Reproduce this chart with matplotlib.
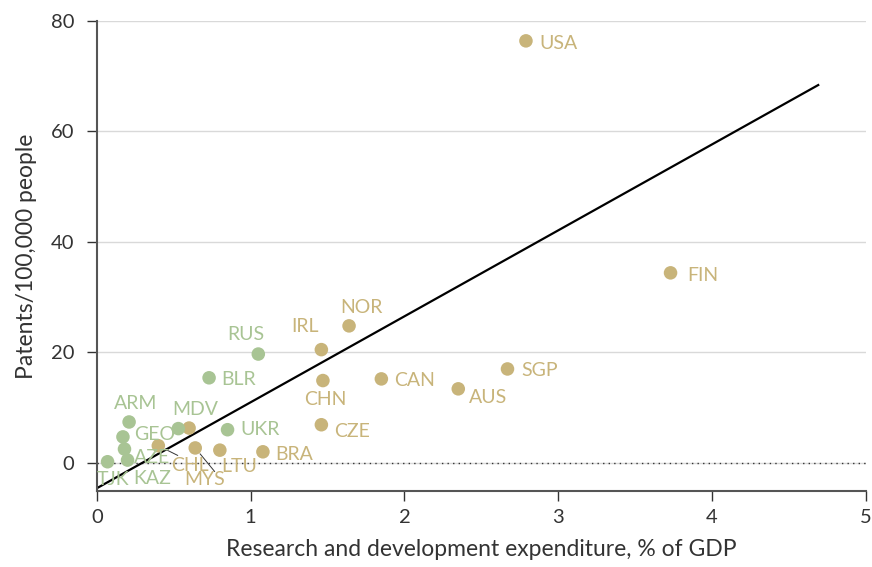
import numpy as np
import matplotlib.pyplot as plt

plt.rcParams['font.family'] = ['Lato', 'DejaVu Sans']

#-------------------- data --------------------

countries = ['USA', 'FIN', 'SGP', 'AUS', 'CAN', 'NOR', 'IRL', 'CHN', 'CZE', 'BRA',
             'CHL', 'MYS', 'LTU', '',
             'RUS', 'BLR', 'UKR', 'MDV', 'ARM', 'GEO', 'AZE', 'KAZ', 'TJK']
rnd_gdp = [2.79, 3.73, 2.67, 2.35, 1.85, 1.64, 1.46, 1.47, 1.46, 1.08,
           0.40, 0.64, 0.80, 0.60,
           1.05, 0.73, 0.85, 0.53, 0.21, 0.17, 0.18, 0.20, 0.07]
patents = [76.4, 34.4, 17.0, 13.4, 15.2, 24.8, 20.5, 14.9, 6.9, 2.0,
           3.1, 2.7, 2.3, 6.3,
           19.7, 15.4, 6.0, 6.2, 7.4, 4.7, 2.5, 0.5, 0.2]
group = ['other'] * 14 + ['cis'] * 9

trend_x = [0.0, 4.69]
trend_y = [-4.6, 68.4]

#-------------------- label placement (offset points) --------------------

offsets = {
    'USA': (10, -2, 'left'), 'FIN': (12, -2, 'left'), 'SGP': (10, -1, 'left'),
    'AUS': (8, -6, 'left'), 'CAN': (9, -1, 'left'), 'NOR': (9, 13, 'center'),
    'IRL': (-12, 17, 'center'), 'CHN': (2, -14, 'center'), 'CZE': (9, -5, 'left'),
    'BRA': (9, -2, 'left'), 'CHL': (23, -14, 'center'), 'MYS': (7, -23, 'center'),
    'LTU': (14, -12, 'center'), 'RUS': (-9, 14, 'center'), 'BLR': (9, -1, 'left'),
    'UKR': (9, 0, 'left'), 'MDV': (12, 14, 'center'), 'ARM': (5, 13, 'center'),
    'GEO': (8, 2, 'left'), 'AZE': (20, -6, 'center'), 'KAZ': (18, -13, 'center'),
    'TJK': (4, -13, 'center'),
}
leaders = {'CHL': (14, -7), 'MYS': (14, -17)}

colors = {'other': '#c8b47a', 'cis': '#a8c494'}

fig = plt.figure(figsize=(8.72, 5.67), dpi=100)
ax = fig.add_axes([0.111, 0.134, 0.882, 0.829])

for g in ['other', 'cis']:
    xs = [x for x, gg in zip(rnd_gdp, group) if gg == g]
    ys = [y for y, gg in zip(patents, group) if gg == g]
    ax.scatter(xs, ys, s=95, color=colors[g], edgecolors='none', zorder=3)

for name, x, y, g in zip(countries, rnd_gdp, patents, group):
    if not name:
        continue
    dx, dy, ha = offsets[name]
    ax.annotate(name, (x, y), xytext=(dx, dy), textcoords='offset points',
                ha=ha, va='center', fontsize=14, color=colors[g], zorder=4)
    if name in leaders:
        ax.annotate('', (x, y), xytext=leaders[name], textcoords='offset points',
                    arrowprops=dict(arrowstyle='-', color='#333333', lw=0.7,
                                    shrinkA=0, shrinkB=5.5))

ax.plot(trend_x, trend_y, color='black', lw=1.6, zorder=2)
ax.axhline(0, color='#333333', lw=1, ls=(0, (1, 3)), zorder=1)

ax.set_xlim(0, 5)
ax.set_ylim(-5.1, 80)
ax.set_xticks(range(6))
ax.set_yticks([0, 20, 40, 60, 80])
ax.grid(axis='y', color='#d9d9d9', lw=1)
ax.set_axisbelow(True)

for s in ['top', 'right']:
    ax.spines[s].set_visible(False)
for s in ['left', 'bottom']:
    ax.spines[s].set_color('#555555')
    ax.spines[s].set_linewidth(1.5)
ax.tick_params(colors='#333333', labelsize=14.5, length=7, width=1)
ax.tick_params(axis='x', pad=6)
ax.tick_params(axis='y', pad=9)

ax.set_xlabel('Research and development expenditure, % of GDP', fontsize=16.5,
              color='#333333', labelpad=9)
ax.set_ylabel('Patents/100,000 people', fontsize=16.5, color='#333333',
              labelpad=10)

fig.savefig('out.png', dpi=100)
